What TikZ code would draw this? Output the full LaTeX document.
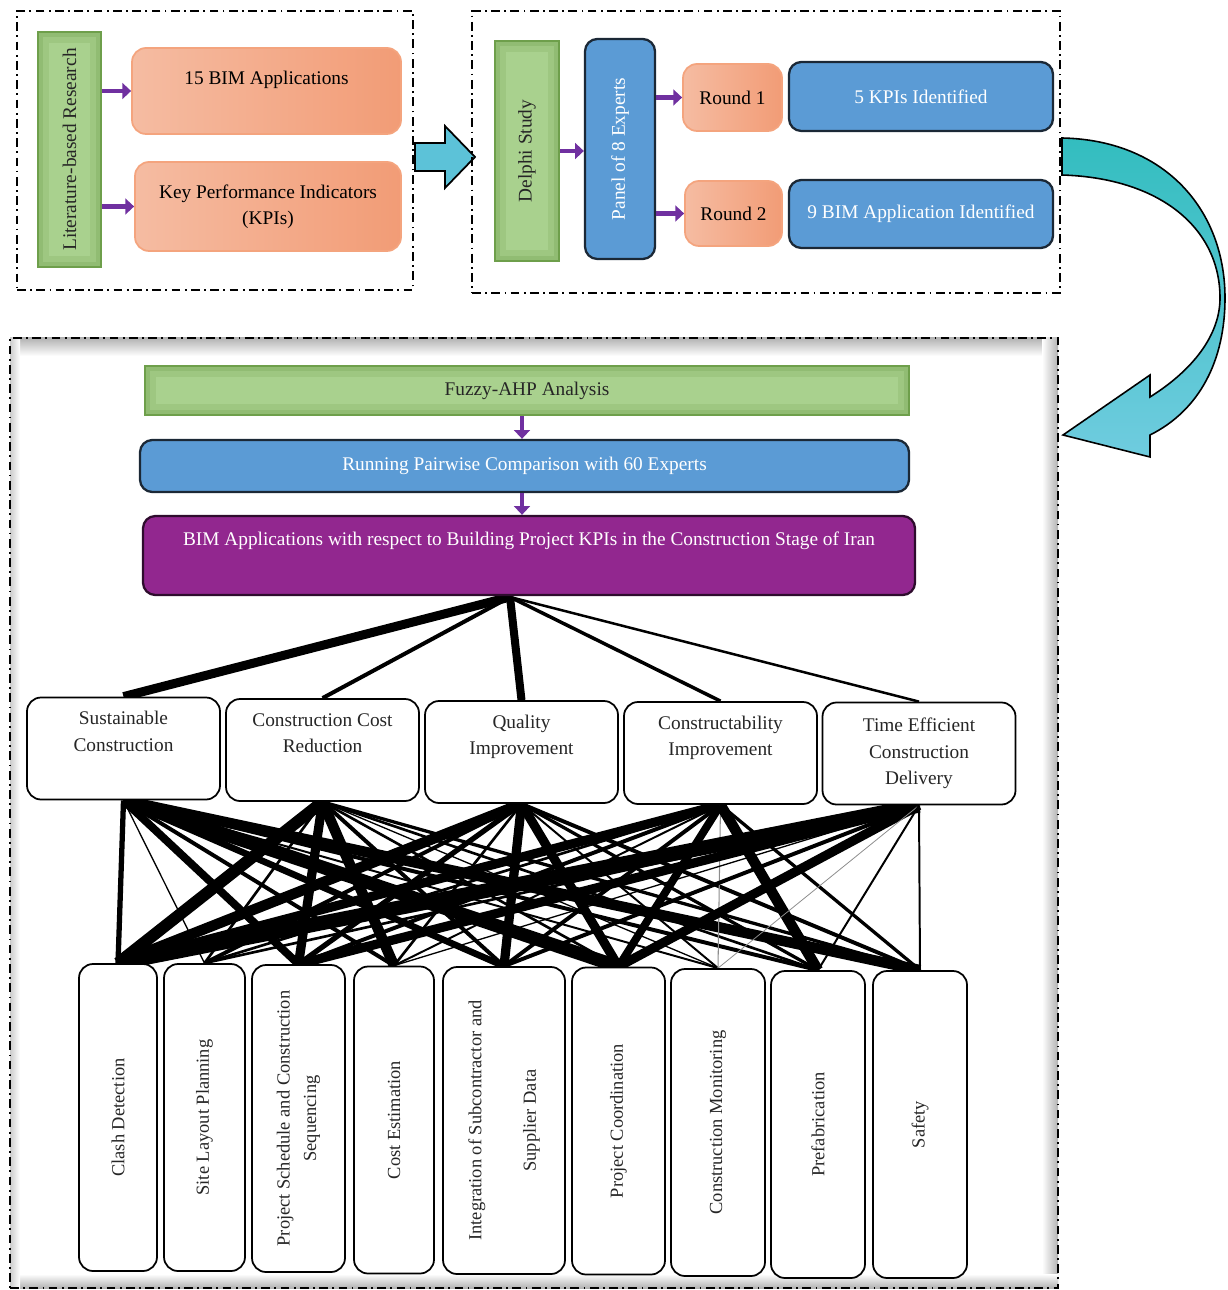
\documentclass[tikz,border=0pt]{standalone}
\usepackage{fontspec}
\setmainfont{Liberation Serif}
\usepackage{xcolor}
\usetikzlibrary{positioning,calc,arrows.meta}
\definecolor{bimGreenFill}{HTML}{A9D18E}
\definecolor{bimGreenLine}{HTML}{6E9F4B}
\definecolor{bimOrangeL}{HTML}{F5BCA2}
\definecolor{bimOrangeR}{HTML}{F29C76}
\definecolor{bimOrangeLine}{HTML}{F4A47E}
\definecolor{bimBlueFill}{HTML}{5B9BD5}
\definecolor{bimBlueLine}{HTML}{1B2836}
\definecolor{bimPurpleFill}{HTML}{92278F}
\definecolor{bimPurpleLine}{HTML}{2E0C2D}
\definecolor{bimArrow}{HTML}{7030A0}
\definecolor{bimTealTop}{HTML}{33BDBF}
\definecolor{bimTealBot}{HTML}{6FCCDF}
\definecolor{bimCyan}{HTML}{5CC2D8}

\pgfdeclarelayer{background}
\pgfsetlayers{background,main}

\tikzset{
  sz/.style 2 args={minimum width=#1*0.02cm, minimum height=#2*0.02cm},
  frameline/.style={draw=black, line width=1.1pt,
    dash pattern=on 5pt off 2.5pt on 1pt off 2.5pt},
  greenbox/.style={draw=bimGreenLine, line width=1.6pt, fill=bimGreenFill,
    inner sep=0pt, text=black!85,
    path picture={
      \draw[bimGreenLine, opacity=0.18, line width=12pt]
        (path picture bounding box.south west) rectangle
        (path picture bounding box.north east);
      \draw[bimGreenLine, opacity=0.25, line width=6pt]
        (path picture bounding box.south west) rectangle
        (path picture bounding box.north east);}},
  orangebox/.style={draw=bimOrangeLine, line width=1pt, left color=bimOrangeL,
    right color=bimOrangeR, rounded corners=8pt, inner sep=0pt, align=center},
  bluebox/.style={draw=bimBlueLine, line width=1.3pt, fill=bimBlueFill,
    rounded corners=7pt, text=white, inner sep=0pt, align=center},
  kpibox/.style={draw=black, line width=1pt, fill=white, rounded corners=8pt,
    align=center, inner sep=0pt, text=black!85},
  appbox/.style={draw=black, line width=1pt, fill=white, rounded corners=8pt,
    align=center, inner sep=0pt, rotate=90, text=black!85,
    font=\fontsize{10.5}{15}\selectfont},
  flowarrow/.style={draw=bimArrow, line width=2.8pt,
    -{Triangle[length=5pt,width=9pt]}},
}

\begin{document}
\begin{tikzpicture}[x=0.02cm, y=-0.02cm, font=\fontsize{11}{15}\selectfont]

\useasboundingbox (0,0) rectangle (1227,1290);

% --- TOP LEFT: literature review ---
\node[frameline, sz={396}{279}] (frameL) at (215,150.5) {};
\node[greenbox, rotate=90, sz={235}{63}] (lit) at (69.5,149.5)
  {Literature-based Research};
\node[orangebox, sz={269}{86}] (app15) at (266.5,91)
  {15 BIM Applications\\[-5pt]\strut};
\node[orangebox, sz={266}{89}] (kpis) at (268,206.5)
  {Key Performance Indicators\\(KPIs)};
\draw[flowarrow] (lit.south |- app15.west) -- (app15.west);
\draw[flowarrow] (lit.south |- kpis.west) -- (kpis.west);

% block arrow between the two upper frames
\filldraw[fill=bimCyan, draw=black, line width=1pt]
  (415,143) -- (445,143) -- (445,126) -- (475,157)
  -- (445,188) -- (445,171) -- (415,171) -- cycle;

% --- TOP RIGHT: Delphi study ---
\node[frameline, sz={588}{282}] (frameR) at (766,152) {};
\node[greenbox, rotate=90, sz={220}{64}] (delphi) at (527,151) {Delphi Study};
\node[bluebox, rotate=90, sz={220}{70}] (panel) at (620,149)
  {Panel of 8 Experts};
\node[orangebox, sz={99}{67}] (round1) at (732.5,97.5) {Round 1};
\node[orangebox, sz={97}{65}] (round2) at (733.5,213.5) {Round 2};
\node[bluebox, sz={264}{69}] (found1) at (921,96.5) {5 KPIs Identified};
\node[bluebox, sz={264}{68}] (found2) at (921,214)
  {9 BIM Application Identified};
\draw[flowarrow] (delphi.south) -- (delphi.south -| panel.north);
\draw[flowarrow] (panel.south |- round1.west) -- (round1.west);
\draw[flowarrow] (panel.south |- round2.west) -- (round2.west);

% curved arrow down to the analysis frame
\shade[top color=bimTealTop, bottom color=bimTealBot, draw=black, line width=0.9pt]
  (1062,138) .. controls (1165,140) and (1225,210) .. (1225,298)
  .. controls (1225,360) and (1200,410) .. (1150,435)
  -- (1150,457) -- (1063,435) -- (1150,375) -- (1150,397)
  .. controls (1193,370) and (1220,335) .. (1220,298)
  .. controls (1220,228) and (1160,178) .. (1062,175) -- cycle;

% --- ANALYSIS FRAME (with soft inner shadow) ---
\shade[top color=black!30, bottom color=white] (10,338) rectangle (1058,356);
\shade[left color=white, right color=black!30] (1042,338) rectangle (1058,1288);
\shade[top color=white, bottom color=black!30] (10,1274) rectangle (1058,1288);
\shade[left color=black!20, right color=white] (10,338) rectangle (20,1288);
\node[frameline, sz={1048}{950}] (frameM) at (534,813) {};

\node[greenbox, sz={764}{49}] (fuzzy) at (527,390.5) {Fuzzy-AHP Analysis};
\node[bluebox, sz={769}{52}] (pairwise) at (524.5,466)
  {Running Pairwise Comparison with 60 Experts};
\node[bluebox, draw=bimPurpleLine, fill=bimPurpleFill, sz={772}{79}] (goal)
  at (529,555.5)
  {BIM Applications with respect to Building Project KPIs in the Construction Stage of Iran\\\strut};
\draw[flowarrow, line width=2.2pt] ([xshift=-0.1cm]fuzzy.south)
  -- ([xshift=-0.1cm]fuzzy.south |- pairwise.north);
\draw[flowarrow, line width=2.2pt] ([xshift=-0.05cm]pairwise.south)
  -- ([xshift=-0.05cm]pairwise.south |- goal.north);
\coordinate (hub) at (510,597);

% KPI level
\foreach \i/\cx/\cy/\txt in {
    1/123.5/748.5/{Sustainable\\Construction\\\strut},
    2/322.5/750/{Construction Cost\\Reduction\\\strut},
    3/521.5/752/{Quality\\Improvement\\\strut},
    4/720.5/753/{Constructability\\Improvement\\\strut},
    5/919/753.5/{Time Efficient\\Construction\\Delivery}} {
  \node[kpibox, sz={193}{102}] (k\i) at (\cx,\cy) {\txt};
}

% application level (rotated labels)
\foreach \i/\cx/\cy/\w/\txt in {
    1/118/1117.5/78/{Clash Detection},
    2/204.5/1117.5/81/{Site Layout Planning},
    3/298.5/1118.5/93/{Project Schedule and Construction\\Sequencing},
    4/394/1120/80/{Cost Estimation},
    5/504/1120.5/122/{Integration of Subcontractor and\\[16pt]Supplier Data},
    6/618.5/1121/93/{Project Coordination},
    7/718/1122.5/94/{Construction Monitoring},
    8/818/1124.5/94/{Prefabrication},
    9/920/1124.5/94/{Safety}} {
  \node[appbox, sz={307}{\w}] (a\i) at (\cx,\cy) {\txt};
}

\begin{pgfonlayer}{background}
% goal -> KPIs, width ~ weight
\foreach \k/\w in {1/9, 2/4, 3/8, 4/3.5, 5/2.5} {
  \draw[line width=\w*0.57pt] (hub) -- (k\k.north);
}
% KPIs -> applications, one row of widths per KPI
\foreach \k/\row in {
    1/{4,1,6,3,5,10,1.5,3,8},
    2/{9,2,7,8,3,2,1,2,2.5},
    3/{8,3,4,2,7,7,1.5,2.5,3},
    4/{7,2,3,1.5,3,6,0.8,8,2.5},
    5/{11,2,7,1,3,7,0.6,1.5,1.5}} {
  \foreach \w [count=\a] in \row {
    \pgfmathtruncatemacro\ink{\w<1 ? 45 : 100}
    \draw[black!\ink, line width=\w*0.75pt] (k\k.south) -- (a\a.east);
  }
}
\end{pgfonlayer}

\end{tikzpicture}
\end{document}
